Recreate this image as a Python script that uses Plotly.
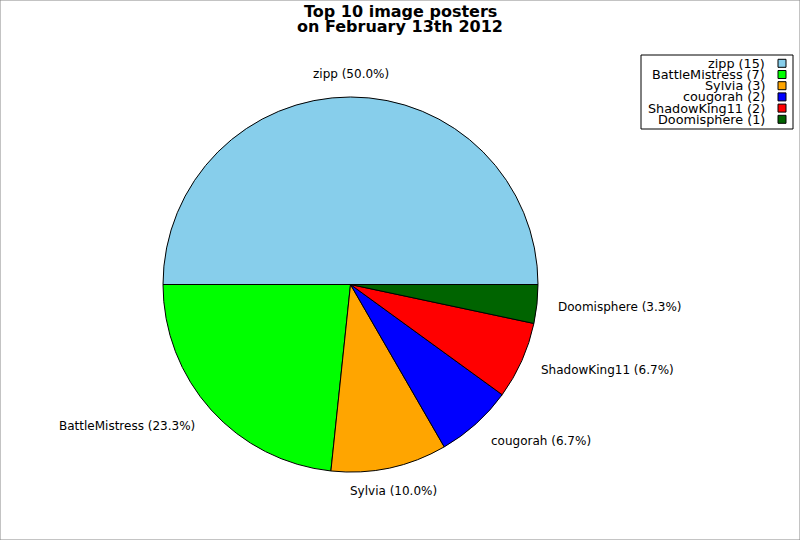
import numpy as np
import plotly.graph_objects as go

W, H = 800, 540

posters = ["zipp", "BattleMistress", "Sylvia", "cougorah", "ShadowKing11", "Doomisphere"]
image_counts = [15, 7, 3, 2, 2, 1]
slice_colors = ["#87ceeb", "#00ff00", "#ffa500", "#0000ff", "#ff0000", "#006400"]
title_lines = ["Top 10 image posters", "on February 13th 2012"]

FONT = "DejaVu Sans"

# pie placement in pixels (centre and radius)
CX, CY, R = 350.5, 284.5, 187.5


def to_paper(x, y):
    # pixel position -> paper coordinates
    return x / W, 1 - y / H


fig = go.Figure()

fig.add_trace(go.Pie(
    labels=posters, values=image_counts, sort=False,
    direction="counterclockwise", rotation=-90,
    marker=dict(colors=slice_colors, line=dict(color="black", width=1)),
    textinfo="none",
    domain=dict(x=[(CX - R) / W, (CX + R) / W], y=[1 - (CY + R) / H, 1 - (CY - R) / H]),
    showlegend=False, hoverinfo="label+value+percent",
))

annotations = []
shapes = []

# slice labels a little outside the rim, at each slice's middle angle
fractions = np.array(image_counts) / sum(image_counts)
mids = np.cumsum(fractions) - fractions / 2
for name, frac, mid in zip(posters, fractions, mids):
    ang = 2 * np.pi * mid
    lx = CX + 1.1 * R * np.cos(ang)
    ly = CY - 1.125 * R * np.sin(ang)
    if abs(np.cos(ang)) < 0.3:
        anchor = "center"
    elif np.cos(ang) > 0:
        anchor = "left"
    else:
        anchor = "right"
    x, y = to_paper(lx, ly)
    annotations.append(dict(x=x, y=y, xref="paper", yref="paper",
                            text=f"{name} ({frac * 100:.1f}%)",
                            showarrow=False, xanchor=anchor, yanchor="middle",
                            font=dict(family=FONT, size=12, color="black")))

# title, two tight lines
for i, line in enumerate(title_lines):
    x, y = to_paper(400, 11 + i * 15)
    annotations.append(dict(x=x, y=y, xref="paper", yref="paper", text=f"<b>{line}</b>",
                            showarrow=False, xanchor="center", yanchor="middle",
                            font=dict(family=FONT, size=16, color="black")))

# hand-made legend: right-aligned labels with swatches on the right
x0, y0 = to_paper(641, 55)
x1, y1 = to_paper(793, 129)
shapes.append(dict(type="rect", xref="paper", yref="paper", x0=x0, y0=y1, x1=x1, y1=y0,
                   line=dict(color="black", width=1), fillcolor="white"))
for i, (name, count, color) in enumerate(zip(posters, image_counts, slice_colors)):
    cy = 63.3 + i * 11.2
    tx, ty = to_paper(767, cy)
    annotations.append(dict(x=tx, y=ty, xref="paper", yref="paper", text=f"{name} ({count})",
                            showarrow=False, xanchor="right", yanchor="middle",
                            font=dict(family=FONT, size=12.8, color="black")))
    sx0, sy0 = to_paper(778, cy - 4)
    sx1, sy1 = to_paper(786, cy + 4)
    shapes.append(dict(type="rect", xref="paper", yref="paper", x0=sx0, y0=sy1, x1=sx1, y1=sy0,
                       line=dict(color="black", width=1), fillcolor=color))

# thin gray frame around the whole image
shapes.append(dict(type="rect", xref="paper", yref="paper", x0=0, y0=0, x1=1, y1=1,
                   line=dict(color="#888888", width=1)))

fig.update_layout(
    width=W, height=H,
    margin=dict(l=0, r=0, t=0, b=0),
    paper_bgcolor="white", plot_bgcolor="white",
    font=dict(family=FONT, size=12, color="black"),
    annotations=annotations, shapes=shapes,
)

fig.write_html("out.html", config={"displayModeBar": False},
               post_script="document.body.style.margin = '0';")
